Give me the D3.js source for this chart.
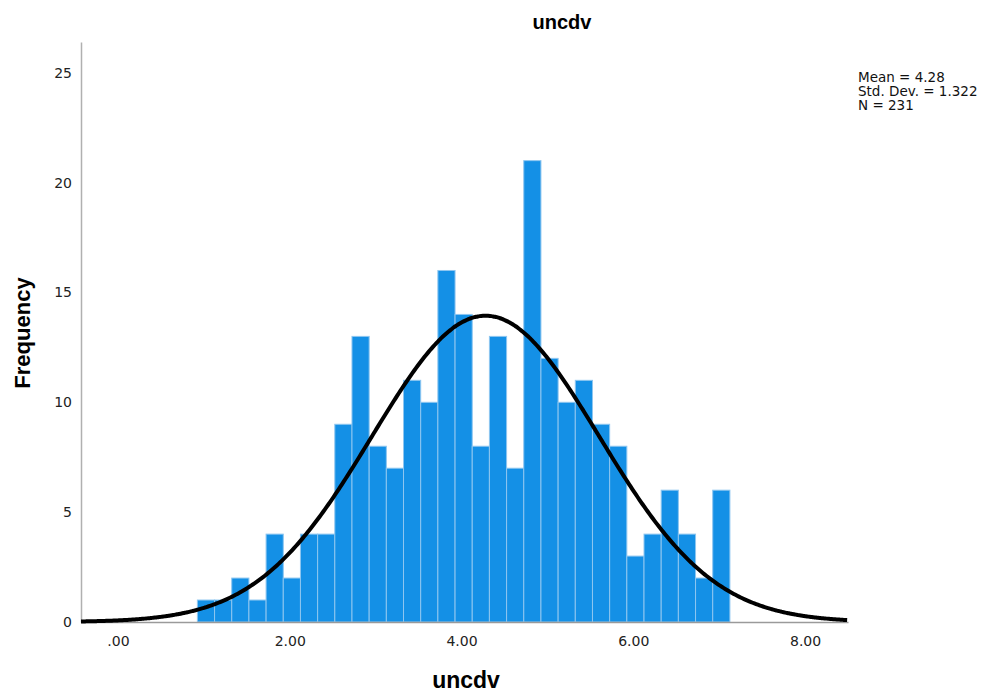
<!DOCTYPE html>
<html><head><meta charset="utf-8">
<script src="https://cdn.jsdelivr.net/npm/d3@7"></script>
<style>body{margin:0;background:#fff;} svg{display:block;}</style>
</head><body>
<svg id="c" width="1001" height="694"></svg>
<script>
const binStarts = [0.925,1.125,1.325,1.525,1.725,1.925,2.125,2.325,2.525,2.725,2.925,3.125,3.325,3.525,3.725,3.925,4.125,4.325,4.525,4.725,4.925,5.125,5.325,5.525,5.725,5.925,6.125,6.325,6.525,6.725,6.925];
const binWidth = 0.2;
const counts = [1,1,2,1,4,2,4,4,9,13,8,7,11,10,16,14,8,13,7,21,12,10,11,9,8,3,4,6,4,2,6];
const xTicks = [0,2,4,6,8];
const yTicks = [0,5,10,15,20,25];
const mean = 4.28, sd = 1.322, n = 231;
const statLines = ["Mean = 4.28","Std. Dev. = 1.322","N = 231"];

const svg = d3.select("#c");
const x = d3.scaleLinear().domain([-0.43, 8.5]).range([81, 848]);
const y = d3.scaleLinear().domain([0, 26.4]).range([622, 42]);

// bars
svg.append("g").selectAll("rect").data(counts).join("rect")
  .attr("x", (d,i)=>x(binStarts[i]))
  .attr("width", (d,i)=>x(binStarts[i]+binWidth)-x(binStarts[i]))
  .attr("y", d=>y(d))
  .attr("height", d=>y(0)-y(d))
  .attr("fill", "#1490e6")
  .attr("stroke", "#8ec6f0")
  .attr("stroke-width", 1);

// axes
const xAxis = svg.append("g").attr("transform","translate(0,622)")
  .call(d3.axisBottom(x).tickValues(xTicks).tickSize(0).tickPadding(14)
    .tickFormat(d=> d===0 ? ".00" : d3.format(".2f")(d)));
xAxis.select(".domain").attr("stroke","#9a9a9a").attr("stroke-width",1.5);
xAxis.selectAll("text").attr("font-family","DejaVu Sans, sans-serif").attr("font-size",14).attr("fill","#222");

const yAxis = svg.append("g").attr("transform","translate(81,0)")
  .call(d3.axisLeft(y).tickValues(yTicks).tickSize(0).tickPadding(9));
yAxis.select(".domain").attr("stroke","#b0b0b0").attr("stroke-width",1.5);
yAxis.selectAll("text").attr("font-family","DejaVu Sans, sans-serif").attr("font-size",14).attr("fill","#222");

// normal curve
const pts = d3.range(-0.43, 8.501, 0.02).map(v => [v, n*binWidth/(sd*Math.sqrt(2*Math.PI))*Math.exp(-0.5*((v-mean)/sd)**2)]);
svg.append("path").datum(pts)
  .attr("d", d3.line().x(d=>x(d[0])).y(d=>y(d[1])).curve(d3.curveBasis))
  .attr("fill","none").attr("stroke","#000").attr("stroke-width",4);

// titles
svg.append("text").attr("x",562).attr("y",29).attr("text-anchor","middle")
  .attr("font-family","Liberation Sans, sans-serif").attr("font-weight","bold").attr("font-size",20).text("uncdv");
svg.append("text").attr("x",466).attr("y",688).attr("text-anchor","middle")
  .attr("font-family","Liberation Sans, sans-serif").attr("font-weight","bold").attr("font-size",23).text("uncdv");
svg.append("text").attr("transform","translate(30,333) rotate(-90)").attr("text-anchor","middle")
  .attr("font-family","Liberation Sans, sans-serif").attr("font-weight","bold").attr("font-size",22).text("Frequency");

// stats
svg.append("g").selectAll("text").data(statLines).join("text")
  .attr("x",858).attr("y",(d,i)=>82+i*14)
  .attr("font-family","DejaVu Sans, sans-serif").attr("font-size",13.5).attr("fill","#111")
  .text(d=>d);
</script>
</body></html>
